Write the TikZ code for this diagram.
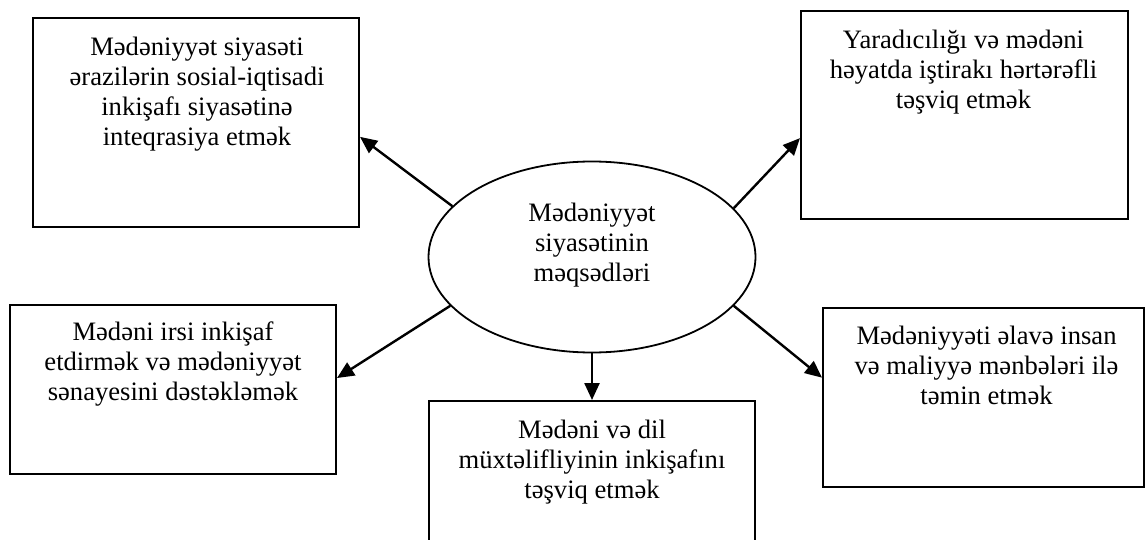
\documentclass[tikz,border=0pt]{standalone}
\usepackage{fontspec}
\setmainfont{Liberation Serif}
\usetikzlibrary{arrows.meta, positioning, shapes.geometric, calc}

\begin{document}
\begin{tikzpicture}[x=0.5pt, y=-0.5pt,
    box/.style={draw, line width=1pt, rectangle, inner sep=0pt},
    goal/.style={draw, line width=0.9pt, ellipse, inner sep=0pt, minimum width=163.5pt, minimum height=95.5pt},
    txt/.style={inner sep=0pt, align=center, font=\fontsize{13.3}{15}\selectfont},
    arrow/.style={-{Triangle[length=8.5pt,width=7.5pt]}, line width=1.2pt}]
    % Canvas
    \useasboundingbox (0,0) rectangle (1145,540);
    \clip (0,0) rectangle (1145,540);

    % Central ellipse
    \node[goal] (goal) at (592,257) {};
    \node[txt, anchor=north] (goaltext) at (592,203) {Mədəniyyət\\siyasətinin\\məqsədləri};

    % Goal boxes
    \node[box, minimum width=163pt, minimum height=104.5pt] (tl) at (196,122.5) {};
    \node[box, minimum width=163.5pt, minimum height=104pt] (tr) at (964.5,115) {};
    \node[box, minimum width=163pt, minimum height=84.5pt] (bl) at (173,389.5) {};
    \node[box, minimum width=163pt, minimum height=79.5pt] (bm) at (592,480.5) {};
    \node[box, minimum width=160.5pt, minimum height=89.5pt] (br) at (983.5,397.5) {};

    % Box texts
    \node[txt, below=10pt of tl.north, xshift=0.5pt] (tltext) {Mədəniyyət siyasəti\\ərazilərin sosial-iqtisadi\\inkişafı siyasətinə\\inteqrasiya etmək};
    \node[txt, below=10pt of tr.north, xshift=-0.5pt] (trtext) {Yaradıcılığı və mədəni\\həyatda iştirakı hərtərəfli\\təşviq etmək};
    \node[txt, below=8.5pt of bl.north] (bltext) {Mədəni irsi inkişaf\\etdirmək və mədəniyyət\\sənayesini dəstəkləmək};
    \node[txt, below=10pt of bm.north] (bmtext) {Mədəni və dil\\müxtəlifliyinin inkişafını\\təşviq etmək};
    \node[txt, below=9.5pt of br.north, xshift=1.5pt] (brtext) {Mədəniyyəti əlavə insan\\və maliyyə mənbələri ilə\\təmin etmək};

    % Arrows
    \draw[arrow] (goal.160) -- (tl.-5);
    \draw[arrow] (goal.19) -- (tr.188);
    \draw[arrow] (goal.199.5) -- (bl.4);
    \draw[arrow] (goal.south) -- (bm.north);
    \draw[arrow] (goal.341) -- (br.173);
\end{tikzpicture}
\end{document}
